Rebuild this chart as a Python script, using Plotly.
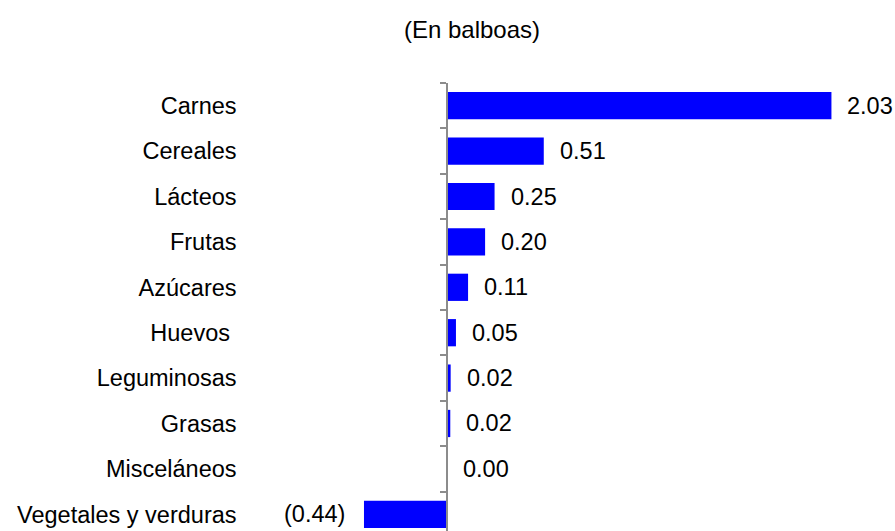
import plotly.graph_objects as go

categories = ["Carnes", "Cereales", "Lácteos", "Frutas", "Azúcares", "Huevos\u00a0",
              "Leguminosas", "Grasas", "Misceláneos", "Vegetales y verduras"]
values = [2.03, 0.51, 0.25, 0.20, 0.11, 0.046, 0.018, 0.016, 0.0, -0.44]
title_text = "(En balboas)"

def fmt(v):
    return f"({abs(v):.2f})" if v < 0 else f"{v:.2f}"

W, H = 895, 531
FONT = "Liberation Sans, Arial, sans-serif"
FS = 23.5

fig = go.Figure(go.Bar(
    x=values, y=categories, orientation="h",
    marker=dict(color="#0000FF", line=dict(width=0)),
    hoverinfo="skip",
))

for c, v in zip(categories, values):
    fig.add_annotation(
        x=v, y=c, xref="x", yref="y", text=fmt(v), showarrow=False,
        xanchor="right" if v < 0 else "left",
        xshift=-17 if v < 0 else 14,
        font=dict(family=FONT, size=FS, color="#000000"),
    )

left_px, right_px = 258, 892
x_lo, x_hi = -1.0, 2.35
zero_pos = (0 - x_lo) / (x_hi - x_lo)

fig.update_layout(
    width=W, height=H,
    margin=dict(l=left_px, r=W - right_px, t=83, b=0),
    paper_bgcolor="white", plot_bgcolor="white",
    bargap=0.4,
    showlegend=False,
    font=dict(family=FONT, size=FS, color="#000000"),
    title=dict(text=title_text, x=472 / W, xanchor="center", xref="container",
               y=1 - 30 / H, yanchor="middle",
               font=dict(family=FONT, size=24, color="#000000")),
    xaxis=dict(range=[x_lo, x_hi], visible=False, showgrid=False, zeroline=False),
    yaxis=dict(
        type="category", categoryorder="array", categoryarray=categories,
        range=[9.368, -0.5],
        anchor="free", position=zero_pos,
        showline=True, linecolor="#8c8c8c", linewidth=2,
        ticks="outside", ticklen=6, tickwidth=2, tickcolor="#8c8c8c",
        tickson="boundaries",
        ticklabelstandoff=205,
        showgrid=False, zeroline=False,
        tickfont=dict(family=FONT, size=FS, color="#000000"),
    ),
)

fig.write_html(
    "out.html",
    config={"displayModeBar": False},
    post_script="document.body.style.margin='0';document.body.style.overflow='hidden';",
)
